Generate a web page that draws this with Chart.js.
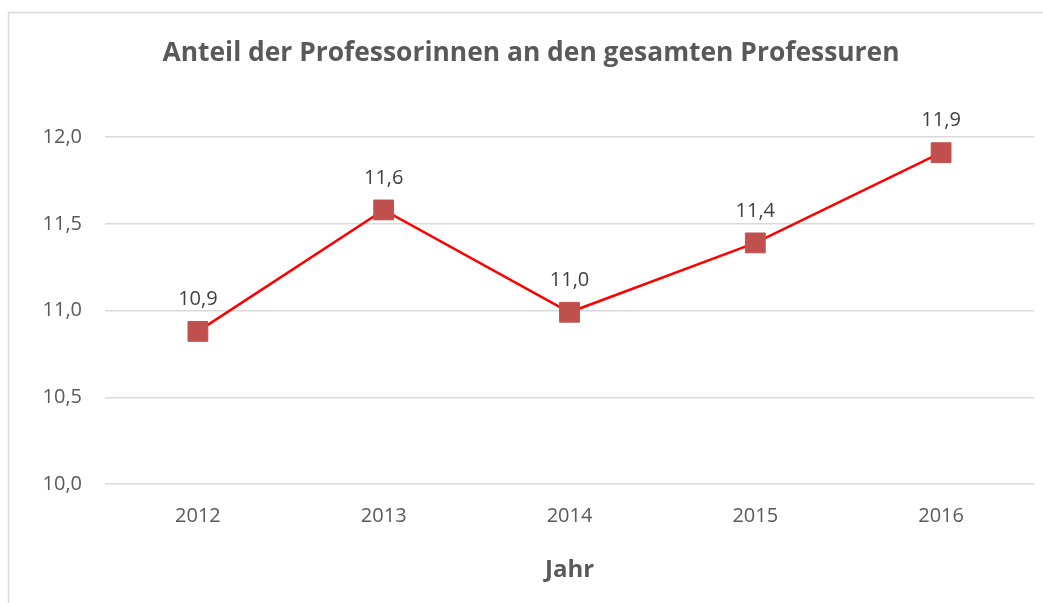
<!DOCTYPE html>
<html>
<head>
<meta charset="utf-8">
<script src="https://cdn.jsdelivr.net/npm/chart.js@4.4.0/dist/chart.umd.min.js"></script>
<style>
  html, body { margin: 0; padding: 0; background: #fff; }
  #wrap { position: relative; width: 1043px; height: 603px; }
</style>
</head>
<body>
<div id="wrap"><canvas id="professorinnenChart"></canvas></div>
<script>
const years = ['2012', '2013', '2014', '2015', '2016'];
const anteilWerte = [10.88, 11.58, 10.99, 11.39, 11.91];
const anteilLabels = ['10,9', '11,6', '11,0', '11,4', '11,9'];

const textGrey = '#595959';
const gridGrey = '#d9d9d9';

// light frame around the chart like the office export
const framePlugin = {
    id: 'frame',
    beforeDraw(chart) {
        const ctx = chart.ctx;
        ctx.save();
        ctx.strokeStyle = gridGrey;
        ctx.lineWidth = 1.5;
        ctx.beginPath();
        ctx.moveTo(8.5, chart.height);
        ctx.lineTo(8.5, 12.5);
        ctx.lineTo(chart.width, 12.5);
        ctx.stroke();
        ctx.restore();
    }
};

// value labels above the markers
const valueLabelPlugin = {
    id: 'valueLabels',
    afterDatasetsDraw(chart) {
        const ctx = chart.ctx;
        const meta = chart.getDatasetMeta(0);
        ctx.save();
        ctx.font = "20px 'Open Sans', sans-serif";
        ctx.fillStyle = '#404040';
        ctx.textAlign = 'center';
        ctx.textBaseline = 'middle';
        meta.data.forEach((pt, i) => {
            ctx.fillText(anteilLabels[i], pt.x, pt.y - 32);
        });
        ctx.restore();
    }
};

const professorinnenCtx = document.getElementById('professorinnenChart').getContext('2d');

new Chart(professorinnenCtx, {
    type: 'line',
    data: {
        labels: years,
        datasets: [{
            label: 'Anteil',
            data: anteilWerte,
            borderColor: '#ff0000',
            borderWidth: 2.5,
            tension: 0,
            fill: false,
            clip: false,
            pointStyle: 'rect',
            pointRadius: 14,
            pointHoverRadius: 14,
            pointBackgroundColor: '#c0504d',
            pointBorderColor: '#c0504d',
            pointBorderWidth: 1
        }]
    },
    options: {
        responsive: true,
        maintainAspectRatio: false,
        animation: false,
        layout: {
            autoPadding: false, // big markers would otherwise shrink the plot area
            padding: { left: 28, right: 9, top: 0, bottom: 0 }
        },
        plugins: {
            legend: { display: false },
            tooltip: { enabled: false },
            title: {
                display: true,
                text: 'Anteil der Professorinnen an den gesamten Professuren',
                color: textGrey,
                font: { family: "'Open Sans', sans-serif", size: 26.4, weight: 'bold', lineHeight: 1.2 },
                padding: { top: 37.2, bottom: 68.2 }
            }
        },
        scales: {
            x: {
                offset: true,
                grid: { display: false, drawTicks: false },
                border: { display: false },
                ticks: {
                    color: textGrey,
                    padding: 20,
                    font: { family: "'Open Sans', sans-serif", size: 20 }
                },
                title: {
                    display: true,
                    text: 'Jahr',
                    color: textGrey,
                    font: { family: "'Open Sans', sans-serif", size: 24, weight: 'bold', lineHeight: 1.2 },
                    padding: { top: 7.6, bottom: 18.6 }
                }
            },
            y: {
                min: 10,
                max: 12,
                grid: { color: gridGrey, lineWidth: 1.5, drawTicks: false },
                border: { display: false },
                ticks: {
                    stepSize: 0.5,
                    color: textGrey,
                    padding: 23,
                    font: { family: "'Open Sans', sans-serif", size: 20 },
                    callback: (v) => v.toFixed(1).replace('.', ',')
                },
                afterFit: (scale) => { scale.width = 77; }
            }
        }
    },
    plugins: [framePlugin, valueLabelPlugin]
});
</script>
</body>
</html>
